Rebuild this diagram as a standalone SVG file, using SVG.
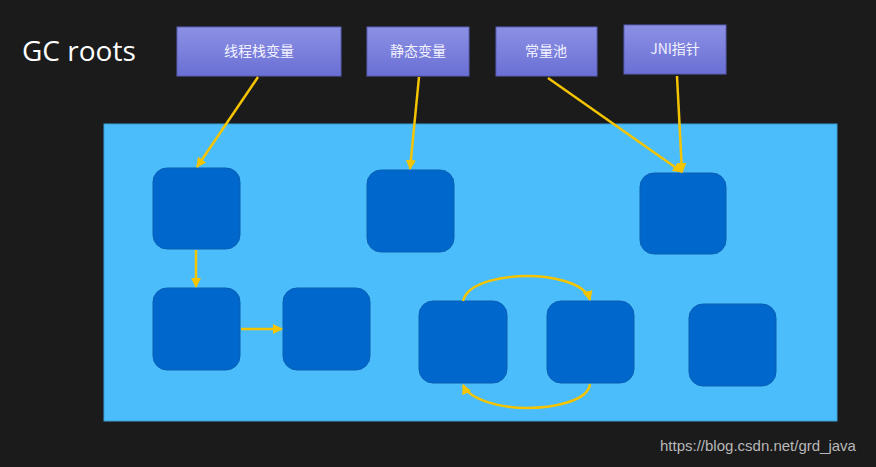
<svg xmlns="http://www.w3.org/2000/svg" width="876" height="467" viewBox="0 0 876 467">
<defs>
<linearGradient id="rootg" x1="0" y1="0" x2="0" y2="1">
<stop offset="0" stop-color="#8c90e4"/>
<stop offset="1" stop-color="#6a70d4"/>
</linearGradient>
<marker id="ah" viewBox="0 0 10 10" refX="9" refY="5" markerWidth="4" markerHeight="4" orient="auto" markerUnits="strokeWidth">
<path d="M0,0 L10,5 L0,10 z" fill="#f5c400"/>
</marker>
</defs>
<style>
.root{fill:url(#rootg);stroke:#5a5fb8;stroke-width:1}
.rt{fill:#f2f2ff;font-family:"Noto Sans CJK SC","Open Sans",sans-serif;font-size:14px;text-anchor:middle}
.obj{fill:#0068cc;stroke:#0a5fb5;stroke-width:1}
.con{fill:none;stroke:#f5c400;stroke-width:2.5;marker-end:url(#ah)}
</style>
<rect width="876" height="467" fill="#1b1b1b"/>
<text x="22" y="61" font-family="Open Sans, sans-serif" font-size="28" fill="#ffffff">GC roots</text>
<rect x="104" y="124" width="733" height="297" fill="#4bbdfa" stroke="#3aa0d8" stroke-width="1"/>
<g id="root-thread"><rect class="root" x="177" y="27" width="164" height="49"/><text class="rt" x="259" y="56">线程栈变量</text></g>
<g id="root-static"><rect class="root" x="367" y="27" width="102" height="49"/><text class="rt" x="418" y="56">静态变量</text></g>
<g id="root-const"><rect class="root" x="496" y="27" width="101" height="49"/><text class="rt" x="546" y="56">常量池</text></g>
<g id="root-jni"><rect class="root" x="624" y="25" width="102" height="49"/><text class="rt" x="675" y="54">JNI指针</text></g>
<g id="obj-a"><rect class="obj" x="153" y="168" width="87" height="81" rx="14"/></g>
<g id="obj-b"><rect class="obj" x="367" y="170" width="87" height="82" rx="14"/></g>
<g id="obj-jni"><rect class="obj" x="640" y="173" width="86" height="81" rx="14"/></g>
<g id="obj-c"><rect class="obj" x="153" y="288" width="87" height="82" rx="14"/></g>
<g id="obj-d"><rect class="obj" x="283" y="288" width="87" height="82" rx="14"/></g>
<g id="obj-e"><rect class="obj" x="419" y="301" width="88" height="82" rx="14"/></g>
<g id="obj-f"><rect class="obj" x="547" y="301" width="87" height="82" rx="14"/></g>
<g id="obj-g"><rect class="obj" x="689" y="304" width="87" height="82" rx="14"/></g>
<g id="connectors">
<path class="con" d="M258,77 L197,167"/>
<path class="con" d="M419,77 L410,169"/>
<path class="con" d="M548,78 L682,172"/>
<path class="con" d="M677,76 L682,172"/>
<path class="con" d="M196,250 L196,287"/>
<path class="con" d="M241,329 L282,329"/>
<path class="con" d="M463,301 C468,280 510,276 527,276 C550,276 585,282 590,300"/>
<path class="con" d="M590,384 C588,402 550,408 527,408 C500,408 470,400 463,385"/>
</g>
<text x="660" y="451" font-family="Liberation Sans, Arial, sans-serif" font-size="15" fill="#b8b8b8">https://blog.csdn.net/grd_java</text>
</svg>
